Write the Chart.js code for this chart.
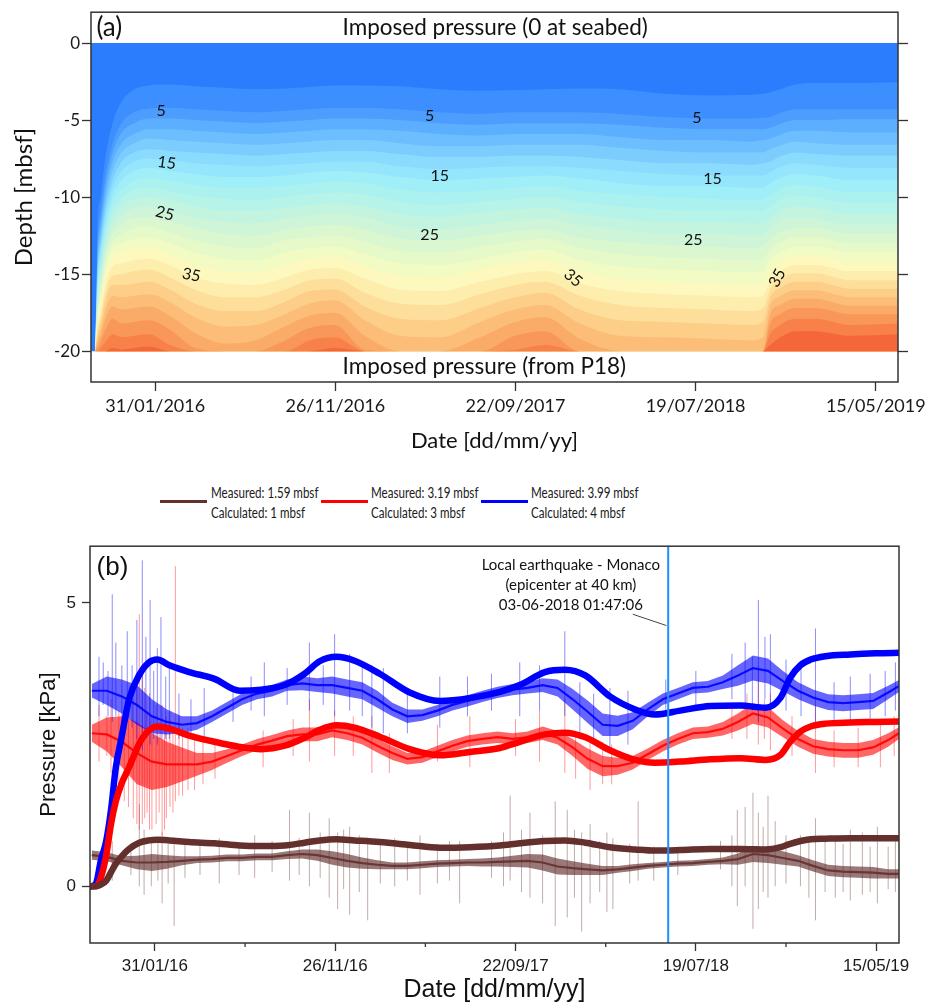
<!DOCTYPE html>
<html>
<head>
<meta charset="utf-8">
<script src="https://cdn.jsdelivr.net/npm/chart.js@4.4.1/dist/chart.umd.min.js"></script>
<style>
  body { margin: 0; background: #fff; }
  #wrap { position: relative; width: 932px; height: 1006px; overflow: hidden; }
  #chartA { position: absolute; left: 0; top: 0; }
  #chartB { position: absolute; left: 0; top: 530px; }
  .sw { position: absolute; height: 3px; width: 47px; }
  .lg { position: absolute; font: 14.5px Lato, sans-serif; line-height: 20px; color: #1a1a1a; white-space: nowrap;
        transform: scaleX(0.8); transform-origin: 0 0; }
</style>
</head>
<body>
<div id="wrap">
  <canvas id="chartA" width="932" height="465"></canvas>
  <div class="sw" style="left:160px;top:500px;background:#633230"></div>
  <div class="lg" style="left:211px;top:483px">Measured: 1.59 mbsf<br>Calculated: 1 mbsf</div>
  <div class="sw" style="left:321px;top:500px;background:#ff0000"></div>
  <div class="lg" style="left:371px;top:483px">Measured: 3.19 mbsf<br>Calculated: 3 mbsf</div>
  <div class="sw" style="left:481px;top:500px;background:#0000ff"></div>
  <div class="lg" style="left:531px;top:483px">Measured: 3.99 mbsf<br>Calculated: 4 mbsf</div>
  <canvas id="chartB" width="932" height="476"></canvas>
</div>
<script>
// time axis: days counted from 31/01/2016
const majorTickDays = [0, 300, 600, 900, 1200];
const minorTickDays = [150, 450, 750, 1050];
const tickLabelsA = ['31/01/2016', '26/11/2016', '22/09/2017', '19/07/2018', '15/05/2019'];
const tickLabelsB = ['31/01/16', '26/11/16', '22/09/17', '19/07/18', '15/05/19'];

// ---- (a) pore pressure field, contour lines (kPa) ----
const contourLevels = [2, 4, 6, 8, 10, 12, 14, 16, 18, 20, 22, 24, 26, 28, 30, 32, 34, 36, 38, 40, 42, 44, 46, 48];
const contourDays = [-100, -96, -91, -83, -71, -56, -35, -10, 24, 66, 116, 166, 216, 257, 299, 349, 407,
  474, 541, 599, 649, 707, 774, 849, 924, 991, 1012, 1024, 1041, 1066, 1099, 1158, 1237];
// depth (mbsf) of each contour level at each day; missing levels rest on the bottom boundary
const contourDepths = [
  [],
  [-12.0, -13.0, -13.6, -14.1, -14.5, -14.9, -15.3, -15.6, -15.9, -16.2, -16.5, -16.8, -17.1, -17.4, -17.7, -18.0, -18.3, -18.6, -18.9, -19.2, -19.5, -19.8],
  [-10.0, -11.0, -11.6, -12.1, -12.6, -13.0, -13.4, -13.8, -14.2, -14.6, -15.0, -15.4, -15.8, -16.2, -16.6, -17.0, -17.4, -17.8, -18.2, -18.6, -19.0, -19.4, -19.8],
  [-7.4, -8.6, -9.2, -9.8, -10.3, -10.8, -11.3, -11.8, -12.2, -12.6, -13.0, -13.4, -13.8, -14.2, -14.7, -15.2, -15.7, -16.2, -16.7, -17.3, -17.9, -18.6, -19.4],
  [-5.2, -6.5, -7.1, -7.7, -8.3, -8.9, -9.4, -9.9, -10.4, -10.9, -11.4, -11.9, -12.4, -12.9, -13.4, -13.9, -14.5, -15.1, -15.7, -16.4, -17.1, -17.9, -18.9, -19.8],
  [-3.8, -5.2, -5.8, -6.5, -7.1, -7.7, -8.3, -8.9, -9.5, -10.1, -10.6, -11.2, -11.8, -12.4, -13.0, -13.6, -14.3, -15.0, -15.7, -16.5, -17.3, -18.2, -19.1, -19.9],
  [-3.0, -4.5, -5.2, -5.9, -6.5, -7.1, -7.7, -8.3, -8.9, -9.5, -10.1, -10.7, -11.3, -12.0, -12.7, -13.4, -14.1, -14.8, -15.6, -16.4, -17.2, -18.1, -19.0, -19.8],
  [-2.75, -4.25, -4.9, -5.6, -6.2, -6.9, -7.5, -8.1, -8.8, -9.4, -10.0, -10.6, -11.3, -11.9, -12.6, -13.3, -14.0, -14.7, -15.5, -16.3, -17.1, -18.0, -18.9, -19.7],
  [-2.7, -4.2, -4.9, -5.6, -6.3, -7.0, -7.6, -8.3, -8.9, -9.6, -10.2, -10.9, -11.6, -12.3, -13.0, -13.7, -14.4, -15.2, -16.0, -16.8, -17.7, -18.6, -19.6],
  [-2.8, -4.3, -5.0, -5.7, -6.4, -7.1, -7.8, -8.5, -9.2, -9.9, -10.6, -11.3, -12.0, -12.8, -13.6, -14.4, -15.2, -16.0, -16.9, -17.8, -18.8, -19.8],
  [-2.9, -4.4, -5.1, -5.8, -6.5, -7.2, -7.9, -8.7, -9.4, -10.1, -10.9, -11.6, -12.4, -13.2, -14.0, -14.8, -15.6, -16.5, -17.4, -18.4, -19.5],
  [-3.0, -4.5, -5.2, -5.9, -6.6, -7.3, -8.0, -8.7, -9.4, -10.2, -10.9, -11.7, -12.5, -13.3, -14.1, -14.9, -15.7, -16.5, -17.4, -18.3, -19.3],
  [-2.95, -4.4, -5.1, -5.8, -6.5, -7.2, -7.9, -8.6, -9.3, -10.0, -10.7, -11.4, -12.1, -12.8, -13.6, -14.4, -15.2, -16.0, -16.8, -17.6, -18.4, -19.3],
  [-2.85, -4.3, -5.0, -5.7, -6.4, -7.1, -7.8, -8.4, -9.1, -9.8, -10.5, -11.2, -11.9, -12.6, -13.3, -14.0, -14.7, -15.4, -16.1, -16.9, -17.7, -18.5, -19.3],
  [-2.75, -4.2, -4.9, -5.6, -6.3, -7.0, -7.7, -8.3, -9.0, -9.7, -10.4, -11.1, -11.8, -12.5, -13.2, -13.9, -14.6, -15.3, -16.0, -16.7, -17.5, -18.3, -19.1, -19.8],
  [-2.75, -4.2, -4.9, -5.6, -6.3, -7.0, -7.7, -8.4, -9.1, -9.8, -10.6, -11.3, -12.1, -12.9, -13.7, -14.5, -15.3, -16.2, -17.1, -18.0, -19.0, -19.9],
  [-2.8, -4.3, -5.0, -5.7, -6.5, -7.2, -8.0, -8.7, -9.5, -10.3, -11.1, -11.9, -12.7, -13.5, -14.3, -15.1, -16.0, -16.9, -17.9, -19.0],
  [-3.0, -4.5, -5.2, -5.9, -6.7, -7.4, -8.2, -8.9, -9.7, -10.5, -11.3, -12.1, -12.8, -13.6, -14.4, -15.2, -16.1, -17.0, -18.0, -19.1],
  [-3.1, -4.6, -5.3, -6.0, -6.7, -7.4, -8.1, -8.8, -9.6, -10.3, -11.0, -11.8, -12.5, -13.2, -14.0, -14.7, -15.5, -16.3, -17.2, -18.1, -19.1],
  [-3.05, -4.5, -5.2, -5.9, -6.6, -7.3, -8.0, -8.7, -9.4, -10.1, -10.8, -11.5, -12.2, -12.9, -13.6, -14.3, -15.0, -15.7, -16.5, -17.3, -18.1, -19.0, -19.9],
  [-3.0, -4.5, -5.2, -5.9, -6.6, -7.3, -8.0, -8.6, -9.3, -10.0, -10.7, -11.4, -12.1, -12.7, -13.4, -14.1, -14.8, -15.5, -16.2, -17.0, -17.8, -18.7, -19.6],
  [-2.95, -4.5, -5.2, -5.9, -6.6, -7.4, -8.1, -8.8, -9.6, -10.3, -11.1, -11.8, -12.6, -13.3, -14.1, -14.8, -15.6, -16.4, -17.3, -18.2, -19.2],
  [-3.0, -4.6, -5.3, -6.1, -6.8, -7.6, -8.3, -9.1, -9.8, -10.6, -11.4, -12.1, -12.9, -13.7, -14.5, -15.3, -16.1, -17.0, -18.0, -19.0],
  [-3.3, -4.8, -5.5, -6.3, -7.0, -7.8, -8.5, -9.3, -10.0, -10.8, -11.6, -12.4, -13.1, -13.9, -14.7, -15.5, -16.3, -17.2, -18.1, -19.1],
  [-3.4, -4.9, -5.6, -6.3, -7.1, -7.8, -8.6, -9.3, -10.1, -10.9, -11.6, -12.4, -13.2, -14.0, -14.8, -15.6, -16.4, -17.3, -18.2, -19.2],
  [-3.35, -4.9, -5.6, -6.4, -7.1, -7.9, -8.6, -9.4, -10.2, -10.9, -11.7, -12.5, -13.3, -14.1, -14.9, -15.7, -16.5, -17.4, -18.3, -19.3],
  [-3.3, -4.85, -5.6, -6.3, -7.1, -7.8, -8.6, -9.4, -10.1, -10.9, -11.7, -12.4, -13.2, -14.0, -14.8, -15.6, -16.4, -17.2, -18.1, -19.1],
  [-3.2, -4.8, -5.5, -6.2, -6.9, -7.7, -8.4, -9.1, -9.9, -10.6, -11.3, -12.0, -12.7, -13.4, -14.1, -14.8, -15.4, -16.0, -16.5, -17.0, -17.6, -18.2, -18.9, -19.6],
  [-3.0, -4.55, -5.25, -5.95, -6.65, -7.35, -8.05, -8.75, -9.45, -10.15, -10.85, -11.55, -12.25, -12.95, -13.6, -14.2, -14.8, -15.35, -15.9, -16.45, -17.0, -17.6, -18.3, -19.1],
  [-2.7, -4.3, -5.0, -5.7, -6.4, -7.1, -7.8, -8.5, -9.2, -9.9, -10.6, -11.3, -12.0, -12.6, -13.2, -13.8, -14.4, -14.95, -15.5, -16.05, -16.6, -17.2, -17.9, -18.7],
  [-2.6, -4.3, -5.0, -5.7, -6.5, -7.2, -7.9, -8.6, -9.3, -10.0, -10.7, -11.4, -12.0, -12.6, -13.2, -13.8, -14.4, -14.95, -15.5, -16.05, -16.6, -17.2, -17.9, -18.7],
  [-2.6, -4.3, -4.95, -5.8, -6.6, -7.3, -8.1, -8.9, -9.7, -10.4, -11.1, -11.8, -12.4, -13.0, -13.6, -14.2, -14.8, -15.4, -15.95, -16.5, -17.05, -17.6, -18.3, -19.0],
  [-2.55, -4.3, -4.95, -5.8, -6.6, -7.3, -8.1, -8.9, -9.7, -10.4, -11.1, -11.8, -12.4, -13.0, -13.6, -14.2, -14.8, -15.4, -15.95, -16.5, -17.05, -17.6, -18.2, -18.9]
];
const bandColors = ['#2c7cfe', '#3d8efe', '#4c9dfe', '#5caefe', '#6cbefe', '#7ccdfe', '#8adbfd', '#95e6fc',
  '#a0eef8', '#aaf1f0', '#b6f3e8', '#c2f4e0', '#cef5d8', '#daf7d0', '#e6f9c9', '#f2fbc4', '#fdf8bd',
  '#fdeeae', '#fddf9b', '#fcce88', '#fbbd77', '#faab67', '#f99758', '#f78148', '#f5673a'];
const contourLabels = [
  { text: '5', day: 10, depth: -4.43, angle: 0 },
  { text: '5', day: 457, depth: -4.75, angle: 0 },
  { text: '5', day: 902, depth: -4.88, angle: 0 },
  { text: '15', day: 19, depth: -7.78, angle: 8 },
  { text: '15', day: 474, depth: -8.62, angle: 0 },
  { text: '15', day: 928, depth: -8.81, angle: 0 },
  { text: '25', day: 16, depth: -11.06, angle: 15 },
  { text: '25', day: 457, depth: -12.48, angle: 0 },
  { text: '25', day: 896, depth: -12.8, angle: 0 },
  { text: '35', day: 60, depth: -15.06, angle: 12 },
  { text: '35', day: 696, depth: -15.25, angle: 40 },
  { text: '35', day: 1036, depth: -15.25, angle: -62 }
];

// ---- (b) pore pressure at three depths (kPa) ----
const measStart = -105, measStep = 25;
const brownMeasured = [0.55, 0.52, 0.45, 0.42, 0.42, 0.43, 0.45, 0.47, 0.48, 0.5, 0.5, 0.52, 0.52, 0.55, 0.57, 0.55, 0.5, 0.45, 0.41, 0.38,
  0.36, 0.36, 0.38, 0.4, 0.41, 0.42, 0.42, 0.43, 0.44, 0.45, 0.42, 0.35, 0.32, 0.3, 0.28, 0.3, 0.33, 0.36, 0.38, 0.4,
  0.41, 0.43, 0.45, 0.48, 0.57, 0.55, 0.5, 0.45, 0.36, 0.28, 0.26, 0.25, 0.24, 0.22, 0.22];
const brownSpread = [0.08, 0.08, 0.08, 0.12, 0.15, 0.12, 0.08, 0.06, 0.06, 0.06, 0.06, 0.06, 0.06, 0.07, 0.08, 0.1, 0.12, 0.12, 0.1, 0.08,
  0.06, 0.06, 0.06, 0.06, 0.06, 0.06, 0.07, 0.08, 0.1, 0.12, 0.14, 0.14, 0.12, 0.1, 0.08, 0.06, 0.06, 0.05, 0.05, 0.05,
  0.05, 0.05, 0.06, 0.1, 0.14, 0.14, 0.12, 0.1, 0.1, 0.1, 0.1, 0.1, 0.1, 0.08, 0.08];
const redMeasured = [2.7, 2.68, 2.55, 2.35, 2.2, 2.15, 2.15, 2.15, 2.2, 2.3, 2.4, 2.5, 2.57, 2.65, 2.68, 2.68, 2.75, 2.7, 2.62, 2.48,
  2.35, 2.25, 2.28, 2.38, 2.48, 2.56, 2.6, 2.63, 2.6, 2.63, 2.7, 2.62, 2.45, 2.25, 2.12, 2.12, 2.18, 2.33, 2.48, 2.6,
  2.7, 2.72, 2.78, 2.9, 3.05, 2.98, 2.78, 2.6, 2.47, 2.42, 2.4, 2.4, 2.45, 2.58, 2.75];
const redSpread = [0.15, 0.3, 0.45, 0.55, 0.5, 0.4, 0.3, 0.2, 0.15, 0.12, 0.1, 0.1, 0.1, 0.1, 0.12, 0.12, 0.12, 0.12, 0.12, 0.12,
  0.12, 0.1, 0.1, 0.1, 0.1, 0.1, 0.1, 0.1, 0.1, 0.1, 0.12, 0.12, 0.15, 0.18, 0.18, 0.15, 0.12, 0.1, 0.1, 0.1,
  0.1, 0.1, 0.12, 0.15, 0.18, 0.18, 0.15, 0.14, 0.13, 0.13, 0.13, 0.13, 0.13, 0.12, 0.1];
const blueMeasured = [3.45, 3.45, 3.35, 3.2, 3.0, 2.9, 2.85, 2.88, 3.0, 3.15, 3.3, 3.4, 3.45, 3.55, 3.58, 3.55, 3.55, 3.5, 3.45, 3.3,
  3.12, 3.0, 3.02, 3.1, 3.2, 3.27, 3.35, 3.42, 3.47, 3.5, 3.55, 3.5, 3.3, 3.08, 2.85, 2.83, 2.92, 3.12, 3.3, 3.4,
  3.5, 3.52, 3.6, 3.72, 3.85, 3.8, 3.62, 3.45, 3.33, 3.25, 3.23, 3.25, 3.27, 3.42, 3.58];
const blueSpread = [0.12, 0.25, 0.3, 0.35, 0.3, 0.22, 0.15, 0.12, 0.1, 0.1, 0.1, 0.1, 0.1, 0.1, 0.12, 0.12, 0.15, 0.15, 0.15, 0.15,
  0.12, 0.12, 0.1, 0.1, 0.1, 0.1, 0.1, 0.1, 0.1, 0.1, 0.12, 0.15, 0.18, 0.2, 0.2, 0.18, 0.15, 0.12, 0.1, 0.1,
  0.1, 0.1, 0.12, 0.18, 0.22, 0.22, 0.18, 0.15, 0.14, 0.14, 0.14, 0.14, 0.14, 0.12, 0.1];

// isolated peaks in the records: [day, min, max]
const brownSpikes = [[-71, 0.1, 0.8], [-40, 0.2, 0.75], [-26, 0.0, 1.45], [-18, -0.15, 1.0], [-6, 0.0, 0.85], [5, 0.1, 0.8],
  [12, -0.3, 0.95], [22, 0.05, 0.85], [32, -0.7, 0.75], [50, 0.15, 0.75], [75, 0.2, 0.8], [107, 0.05, 0.85],
  [140, 0.2, 0.75], [166, 0.15, 0.9], [195, 0.25, 0.8], [224, 0.1, 1.35], [240, 0.2, 0.85], [257, 0.0, 1.3],
  [275, 0.15, 0.95], [290, -0.2, 1.2], [304, -0.4, 0.95], [314, -0.05, 1.0], [324, -0.5, 1.05], [340, -0.1, 0.9],
  [354, -0.6, 0.85], [375, 0.05, 0.75], [399, 0.0, 0.85], [420, 0.1, 0.7], [441, -0.15, 0.9], [470, 0.05, 0.75],
  [490, 0.1, 0.8], [507, -0.3, 0.8], [560, 0.15, 0.8], [580, 0.0, 0.95], [591, 0.1, 1.6], [610, -0.1, 1.0],
  [624, -0.2, 1.3], [645, -0.3, 0.9], [666, -0.7, 1.5], [686, -0.55, 1.35], [698, -0.2, 1.0], [710, -0.8, 0.95],
  [724, -0.3, 1.1], [740, -0.1, 0.8], [752, -0.45, 0.95], [762, -0.4, 0.85], [790, 0.05, 0.75], [804, 0.1, 1.5],
  [830, 0.1, 0.7], [870, 0.2, 0.65], [941, 0.3, 0.8], [960, 0.0, 0.9], [969, -0.35, 1.35], [982, 0.0, 1.4],
  [995, -0.75, 1.65], [1004, -0.4, 1.3], [1012, -0.1, 1.05], [1020, -0.2, 1.6], [1032, 0.0, 1.15], [1050, 0.05, 0.9],
  [1074, 0.0, 0.9], [1088, -0.2, 0.8], [1099, -0.6, 1.2], [1115, -0.1, 0.8], [1132, -0.2, 0.85], [1145, -0.1, 0.75],
  [1157, -0.25, 1.0], [1177, -0.15, 0.95], [1190, -0.1, 0.7], [1202, -0.3, 1.05], [1220, -0.05, 0.7], [1232, -0.1, 0.9]];
const redSpikes = [[-93, 2.2, 3.2], [-80, 2.3, 3.0], [-73, 2.0, 3.3], [-60, 1.8, 3.1], [-51, 1.5, 3.0], [-44, 1.4, 3.4],
  [-36, 1.2, 3.3], [-30, 1.1, 3.6], [-26, 1.0, 4.8], [-21, 1.1, 3.9], [-17, 1.2, 3.5], [-13, 1.3, 3.1], [-9, 1.0, 3.4],
  [-5, 1.0, 3.0], [2, 1.1, 3.2], [7, 1.3, 2.9], [12, 0.9, 3.2], [16, 1.0, 2.9], [19, 1.2, 3.0], [25, 1.4, 3.1],
  [30, 1.3, 2.8], [34, 1.5, 5.65], [40, 1.6, 3.0], [46, 1.6, 2.8], [55, 1.7, 2.8], [66, 1.7, 2.7], [80, 1.8, 2.6],
  [100, 1.9, 2.55], [180, 2.1, 2.75], [230, 2.3, 2.95], [257, 2.2, 3.3], [299, 2.3, 3.1], [330, 2.3, 3.0],
  [361, 2.0, 3.0], [390, 2.0, 2.7], [470, 2.2, 2.85], [524, 2.1, 3.0], [600, 2.3, 2.95], [640, 2.2, 3.1],
  [682, 2.0, 3.3], [700, 1.9, 2.7], [724, 1.7, 2.6], [745, 1.8, 2.55], [760, 1.8, 2.5], [960, 2.6, 3.2],
  [985, 2.6, 3.4], [1004, 2.5, 3.9], [1014, 2.6, 3.3], [1024, 2.4, 3.4], [1060, 2.3, 3.0], [1099, 2.0, 3.2],
  [1130, 2.1, 2.75], [1170, 2.1, 2.8], [1207, 2.1, 2.9], [1230, 2.3, 3.0]];
const blueSpikes = [[-93, 3.0, 4.05], [-86, 3.2, 3.95], [-78, 3.0, 3.8], [-71, 2.9, 5.15], [-65, 3.0, 4.3], [-55, 2.9, 3.9],
  [-46, 2.9, 4.5], [-38, 2.8, 3.9], [-30, 2.6, 4.7], [-21, 2.4, 5.75], [-15, 2.7, 4.4], [-8, 2.5, 5.05], [-2, 2.6, 3.8],
  [4, 2.5, 4.2], [10, 2.6, 4.75], [18, 2.6, 3.7], [24, 2.6, 3.9], [40, 2.6, 3.4], [60, 2.6, 3.3], [82, 2.6, 3.5],
  [130, 2.9, 3.5], [160, 3.1, 3.7], [182, 3.0, 3.95], [220, 3.2, 3.85], [257, 3.1, 4.3], [280, 3.2, 3.9],
  [299, 3.0, 4.45], [324, 3.1, 4.1], [345, 3.0, 3.9], [361, 2.8, 3.9], [380, 2.7, 3.85], [420, 2.7, 3.4],
  [474, 2.8, 3.7], [520, 3.0, 3.7], [560, 3.1, 3.75], [607, 3.0, 3.95], [640, 3.1, 3.9], [682, 3.0, 4.5],
  [707, 2.6, 3.6], [730, 2.5, 3.4], [757, 2.4, 3.5], [787, 2.5, 3.45], [850, 3.0, 3.65], [900, 3.2, 3.8],
  [960, 3.3, 4.1], [982, 3.2, 4.3], [994, 3.1, 4.05], [1004, 2.9, 5.05], [1015, 3.3, 4.4], [1024, 3.2, 4.45],
  [1050, 3.1, 4.0], [1075, 3.0, 3.9], [1099, 2.9, 4.55], [1130, 2.9, 3.6], [1157, 2.9, 3.7], [1190, 2.9, 3.75],
  [1215, 3.0, 3.8], [1232, 3.1, 3.95]];

const calcDays = [-106, -98, -90, -81, -73, -65, -56, -43, -26, -10, 4, 24, 57, 99, 141, 177, 216, 249, 274, 302, 332,
  374, 424, 474, 524, 574, 607, 649, 682, 716, 757, 799, 832, 874, 924, 974, 1016, 1041, 1057, 1074, 1091, 1116,
  1157, 1199, 1241];
const brownCalc = [0, 0, 0.03, 0.1, 0.25, 0.4, 0.52, 0.66, 0.77, 0.81, 0.82, 0.81, 0.78, 0.76, 0.72, 0.71, 0.72, 0.77, 0.81, 0.83,
  0.81, 0.78, 0.73, 0.68, 0.69, 0.72, 0.76, 0.8, 0.81, 0.77, 0.69, 0.65, 0.63, 0.64, 0.66, 0.66, 0.65, 0.69, 0.75, 0.8,
  0.83, 0.84, 0.85, 0.85, 0.85];
const redCalc = [0, 0, 0.15, 0.55, 1.1, 1.5, 1.8, 2.1, 2.52, 2.75, 2.82, 2.78, 2.66, 2.55, 2.46, 2.42, 2.48, 2.62, 2.76, 2.84,
  2.8, 2.64, 2.42, 2.31, 2.37, 2.44, 2.55, 2.68, 2.71, 2.63, 2.4, 2.23, 2.18, 2.2, 2.24, 2.26, 2.23, 2.32, 2.55, 2.73,
  2.82, 2.87, 2.89, 2.9, 2.91];
const blueCalc = [0, 0.05, 0.45, 0.8, 1.35, 2.1, 2.6, 3.3, 3.73, 3.95, 4.0, 3.9, 3.78, 3.66, 3.45, 3.47, 3.55, 3.75, 3.97, 4.05,
  3.98, 3.75, 3.42, 3.27, 3.32, 3.43, 3.55, 3.78, 3.82, 3.72, 3.35, 3.12, 3.03, 3.1, 3.18, 3.19, 3.15, 3.33, 3.68, 3.9,
  4.0, 4.06, 4.09, 4.11, 4.12];

const quakeDay = 854;   // 03-06-2018
const quakeNote = ['Local earthquake - Monaco', '(epicenter at 40 km)', '03-06-2018 01:47:06'];

// ---------------------------------------------------------------
const INK = '#333';
const clear = 'rgba(0,0,0,0)';

const framePlugin = {
  id: 'frame',
  afterDraw(chart) {
    const { ctx, chartArea: a } = chart;
    ctx.save();
    ctx.strokeStyle = INK;
    ctx.lineWidth = 1.5;
    ctx.strokeRect(a.left, a.top, a.right - a.left, a.bottom - a.top);
    ctx.restore();
  }
};

const panelTextA = {
  id: 'panelTextA',
  afterDatasetsDraw(chart) {
    const { ctx, scales: { x, y } } = chart;
    ctx.save();
    ctx.fillStyle = '#111';
    ctx.textBaseline = 'middle';
    ctx.textAlign = 'center';
    ctx.font = '16px Lato';
    contourLabels.forEach(l => {
      ctx.save();
      ctx.translate(x.getPixelForValue(l.day), y.getPixelForValue(l.depth));
      ctx.rotate(l.angle * Math.PI / 180);
      ctx.fillText(l.text, 0, 0);
      ctx.restore();
    });
    ctx.textAlign = 'left';
    ctx.font = '22.5px Lato';
    ctx.fillText('Imposed pressure (0 at seabed)', x.getPixelForValue(312), y.getPixelForValue(1));
    ctx.fillText('Imposed pressure (from P18)', x.getPixelForValue(312), y.getPixelForValue(-21));
    ctx.font = '26px Lato';
    ctx.fillText('(a)', x.getPixelForValue(-98), y.getPixelForValue(1));
    ctx.restore();
  }
};

const panelTextB = {
  id: 'panelTextB',
  afterDraw(chart) {
    const { ctx, scales: { x, y }, chartArea: a } = chart;
    ctx.save();
    ctx.strokeStyle = INK;
    ctx.lineWidth = 1.3;
    minorTickDays.forEach(d => {
      const px = x.getPixelForValue(d);
      ctx.beginPath();
      ctx.moveTo(px, a.bottom);
      ctx.lineTo(px, a.bottom + 4);
      ctx.stroke();
    });
    ctx.fillStyle = '#111';
    ctx.textBaseline = 'middle';
    ctx.textAlign = 'left';
    ctx.font = '26px "Liberation Sans"';
    ctx.fillText('(b)', x.getPixelForValue(-97), y.getPixelForValue(5.62));
    ctx.textAlign = 'center';
    ctx.font = '15px Lato';
    [5.67, 5.32, 4.96].forEach((v, i) => ctx.fillText(quakeNote[i], x.getPixelForValue(692), y.getPixelForValue(v)));
    ctx.restore();
  }
};

// ---- chart (a) ----
const xMinA = -107, xMaxA = 1237;
const contourSets = [{
  data: [{ x: xMinA, y: 0 }, { x: xMaxA, y: 0 }],
  fill: { value: -20 }, backgroundColor: bandColors[0], borderColor: clear, borderWidth: 0, order: 100
}].concat(contourLevels.map((lvl, k) => ({
  label: lvl + ' kPa',
  data: contourDays.map((d, i) => ({ x: d, y: contourDepths[i][k] ?? -20 })),
  fill: { value: -20 },
  backgroundColor: bandColors[k + 1],
  borderColor: clear,
  borderWidth: 0,
  cubicInterpolationMode: 'monotone',
  order: 99 - k
})));

const tickGrid = (len) => ({ display: true, drawOnChartArea: false, drawTicks: true, tickLength: len, tickColor: INK, tickWidth: 1.3 });

new Chart(document.getElementById('chartA'), {
  type: 'line',
  data: { datasets: contourSets },
  options: {
    responsive: false, animation: false, devicePixelRatio: 1,
    layout: { padding: { top: 10, left: 0, right: 0, bottom: 0 } },
    plugins: { legend: { display: false }, tooltip: { enabled: false } },
    elements: { point: { radius: 0 } },
    scales: {
      x: {
        type: 'linear', min: xMinA, max: xMaxA,
        afterBuildTicks: ax => { ax.ticks = majorTickDays.map(v => ({ value: v })); },
        ticks: { callback: (v, i) => tickLabelsA[i], font: { family: 'Lato', size: 18 }, color: '#1a1a1a', padding: 4, maxRotation: 0, autoSkip: false },
        grid: tickGrid(9),
        border: { display: false },
        title: { display: true, text: 'Date [dd/mm/yy]', font: { family: 'Lato', size: 22 }, color: '#111', padding: { top: 0, bottom: 11 } },
        afterFit: s => { s.height = 83; }
      },
      y: {
        type: 'linear', min: -22, max: 2,
        afterBuildTicks: ax => { ax.ticks = [-20, -15, -10, -5, 0].map(v => ({ value: v })); },
        ticks: { callback: v => String(v), font: { family: 'Lato', size: 17 }, color: '#1a1a1a', padding: 2 },
        grid: tickGrid(9),
        border: { display: false },
        title: { display: true, text: 'Depth [mbsf]', font: { family: 'Lato', size: 24 }, color: '#111', padding: { top: 10, bottom: 0 } },
        afterFit: s => { s.width = 91; }
      },
      yR: {
        type: 'linear', position: 'right', display: true, min: -22, max: 2,
        afterBuildTicks: ax => { ax.ticks = [-20, -15, -10, -5, 0].map(v => ({ value: v })); },
        ticks: { callback: () => '' },
        grid: tickGrid(10),
        border: { display: false },
        afterFit: s => { s.width = 34; }
      }
    }
  },
  plugins: [framePlugin, panelTextA]
});

// ---- chart (b) ----
const BROWN = [99, 48, 46], RED = [255, 0, 0], BLUE = [0, 0, 255];
const rgba = (c, a) => `rgba(${c[0]},${c[1]},${c[2]},${a})`;
const measDay = i => measStart + i * measStep;

function measuredSets(col, values, spread, spikes, order, bandAlpha, spikeAlpha) {
  const spikePts = [];
  spikes.forEach(([d, lo, hi]) => { spikePts.push({ x: d, y: lo }, { x: d, y: hi }, { x: d, y: null }); });
  return [
    { data: spikePts, borderColor: rgba(col, spikeAlpha), borderWidth: 1, fill: false, order: order + 2 },
    { data: values.map((v, i) => ({ x: measDay(i), y: v + spread[i] })), borderColor: clear, borderWidth: 0,
      fill: '+1', backgroundColor: rgba(col, bandAlpha), order: order + 1 },
    { data: values.map((v, i) => ({ x: measDay(i), y: v - spread[i] })), borderColor: clear, borderWidth: 0,
      fill: false, order: order + 1 },
    { data: values.map((v, i) => ({ x: measDay(i), y: v })), borderColor: rgba(col, 0.9), borderWidth: 2.2,
      fill: false, order: order }
  ];
}

const calcSet = (col, values, order) => ({
  data: calcDays.map((d, i) => ({ x: d, y: values[i] })),
  borderColor: rgba(col, 1), borderWidth: 6.5, borderCapStyle: 'round', borderJoinStyle: 'round',
  cubicInterpolationMode: 'monotone', fill: false, order
});

const setsB = [
  { data: [{ x: quakeDay, y: -1 }, { x: quakeDay, y: 6 }], borderColor: '#1e90ff', borderWidth: 2, fill: false, order: 0 },
  { data: [{ x: 795, y: 4.8 }, { x: 851, y: 4.6 }], borderColor: '#444', borderWidth: 1, fill: false, order: 0 },
  calcSet(BROWN, brownCalc, 1),
  calcSet(RED, redCalc, 2),
  calcSet(BLUE, blueCalc, 3)
].concat(
  measuredSets(BLUE, blueMeasured, blueSpread, blueSpikes, 4, 0.6, 0.45),
  measuredSets(RED, redMeasured, redSpread, redSpikes, 8, 0.6, 0.4),
  measuredSets(BROWN, brownMeasured, brownSpread, brownSpikes, 12, 0.65, 0.4)
);

new Chart(document.getElementById('chartB'), {
  type: 'line',
  data: { datasets: setsB },
  options: {
    responsive: false, animation: false, devicePixelRatio: 1,
    layout: { padding: { top: 9, left: 0, right: 33, bottom: 0 } },
    plugins: { legend: { display: false }, tooltip: { enabled: false } },
    elements: { point: { radius: 0 } },
    scales: {
      x: {
        type: 'linear', min: -108, max: 1238,
        afterBuildTicks: ax => { ax.ticks = majorTickDays.map(v => ({ value: v })); },
        ticks: { callback: (v, i) => tickLabelsB[i], font: { family: 'Liberation Sans', size: 17 }, color: '#1a1a1a', padding: 5, maxRotation: 0, autoSkip: false },
        grid: tickGrid(8),
        border: { display: false },
        title: { display: true, text: 'Date [dd/mm/yy]', font: { family: 'Liberation Sans', size: 25, lineHeight: 1 }, color: '#111', padding: { top: 0, bottom: 3 } },
        afterFit: s => { s.height = 63; }
      },
      y: {
        type: 'linear', min: -1, max: 6,
        afterBuildTicks: ax => { ax.ticks = [0, 5].map(v => ({ value: v })); },
        ticks: { callback: v => String(v), font: { family: 'Liberation Sans', size: 17 }, color: '#1a1a1a', padding: 6 },
        grid: tickGrid(8),
        border: { display: false },
        title: { display: true, text: 'Pressure [kPa]', font: { family: 'Liberation Sans', size: 22 }, color: '#111', padding: { top: 36, bottom: 0 } },
        afterFit: s => { s.width = 90; }
      }
    }
  },
  plugins: [framePlugin, panelTextB]
});
</script>
</body>
</html>
